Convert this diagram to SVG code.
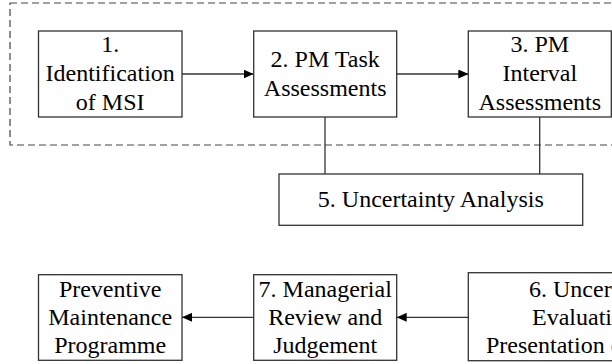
<svg xmlns="http://www.w3.org/2000/svg" width="612" height="364" viewBox="0 0 612 364">
<style>
.box{fill:#fff;stroke:#333;stroke-width:1.3}
.t{font-family:"Liberation Serif","Times New Roman",serif;font-size:24px;fill:#000;text-anchor:middle}
.ts{font-family:"Liberation Serif","Times New Roman",serif;font-size:24px;fill:#000;text-anchor:start}
.ln{stroke:#333;stroke-width:1.3;fill:none}
.dash{stroke:#444;stroke-width:1.2;fill:none;stroke-dasharray:7,4}
</style>
<defs>
<marker id="ah" markerWidth="10" markerHeight="9" refX="10" refY="4.5" orient="auto" markerUnits="userSpaceOnUse">
<path d="M0,0 L10,4.5 L0,9 Z" fill="#000"/>
</marker>
</defs>
<rect class="dash" x="10" y="3" width="640" height="142"/>
<g id="connectors">
<line class="ln" x1="182" y1="74" x2="253.5" y2="74" marker-end="url(#ah)"/>
<line class="ln" x1="396.7" y1="74" x2="468.3" y2="74" marker-end="url(#ah)"/>
<line class="ln" x1="325" y1="117" x2="325" y2="174"/>
<line class="ln" x1="539.7" y1="117" x2="539.7" y2="174"/>
<line class="ln" x1="468.3" y1="317.3" x2="396.7" y2="317.3" marker-end="url(#ah)"/>
<line class="ln" x1="253.7" y1="317.3" x2="182" y2="317.3" marker-end="url(#ah)"/>
</g>
<g id="n1">
<rect class="box" x="38.5" y="31" width="143.5" height="86"/>
<text class="t" x="110.2" y="52.3">1.</text>
<text class="t" x="110.2" y="81">Identification</text>
<text class="t" x="110.2" y="110">of MSI</text>
</g>
<g id="n2">
<rect class="box" x="253.7" y="31" width="143" height="86"/>
<text class="t" x="325.2" y="67">2. PM Task</text>
<text class="t" x="325.2" y="96">Assessments</text>
</g>
<g id="n3">
<rect class="box" x="468.3" y="31" width="143" height="86"/>
<text class="t" x="539.8" y="52.3">3. PM</text>
<text class="t" x="539.8" y="81">Interval</text>
<text class="t" x="539.8" y="110">Assessments</text>
</g>
<g id="n5">
<rect class="box" x="279" y="174" width="303.7" height="51.3"/>
<text class="t" x="430.8" y="207">5. Uncertainty Analysis</text>
</g>
<g id="n6">
<rect class="box" x="468.3" y="272.7" width="300" height="88"/>
<text class="ts" x="529" y="297">6. Uncertainty</text>
<text class="ts" x="532" y="325.3">Evaluation and</text>
<text class="ts" x="486" y="353">Presentation of Results</text>
</g>
<g id="n7">
<rect class="box" x="253.7" y="274.7" width="143" height="85.6"/>
<text class="t" x="325.2" y="296.5">7. Managerial</text>
<text class="t" x="325.2" y="325.3">Review and</text>
<text class="t" x="325.2" y="353">Judgement</text>
</g>
<g id="n8">
<rect class="box" x="38.5" y="274.7" width="143.5" height="85.6"/>
<text class="t" x="110.2" y="296.5">Preventive</text>
<text class="t" x="110.2" y="325.3">Maintenance</text>
<text class="t" x="110.2" y="353">Programme</text>
</g>
</svg>
